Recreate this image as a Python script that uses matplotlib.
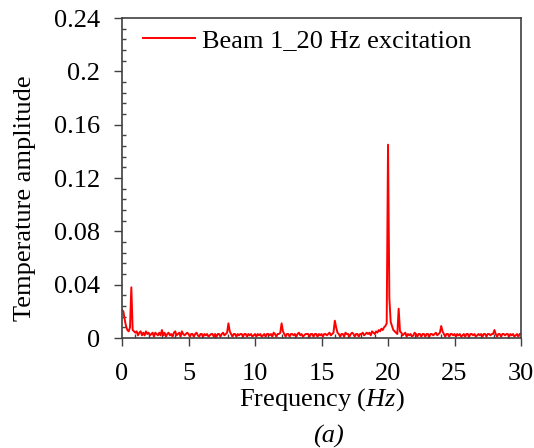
import numpy as np
import matplotlib.pyplot as plt
from matplotlib.ticker import MultipleLocator

# Spectrum, 0.1 Hz steps, amplitude in units of 0.001
freq = np.arange(0, 30.01, 0.1)
amp_milli = [
    21, 20, 14, 9, 6, 5, 8, 38, 6, 5,
    4, 5, 2, 4, 5, 2, 4, 2, 5, 3,
    4, 2, 3, 4, 1, 4, 3, 2, 4, 2,
    6, 2, 4, 1, 3, 4, 2, 3, 1, 4,
    5, 2, 3, 4, 1, 5, 3, 2, 3, 4,
    3, 1, 3, 3, 1, 3, 4, 2, 1, 3,
    3, 1, 3, 2, 3, 1, 2, 3, 3, 1,
    3, 1, 3, 3, 1, 3, 4, 2, 3, 4,
    11, 5, 3, 1, 3, 3, 1, 3, 2, 3,
    3, 1, 3, 3, 1, 3, 2, 3, 1, 2,
    3, 1, 3, 2, 3, 1, 2, 3, 1, 3,
    3, 2, 3, 1, 4, 3, 1, 3, 3, 4,
    11, 5, 3, 1, 3, 3, 1, 3, 3, 2,
    3, 1, 3, 4, 2, 3, 1, 2, 3, 3,
    3, 1, 3, 3, 1, 3, 3, 1, 3, 2,
    3, 1, 3, 3, 2, 3, 4, 2, 3, 4,
    13, 8, 4, 3, 1, 3, 3, 1, 4, 3,
    3, 1, 3, 4, 3, 1, 3, 3, 1, 3,
    3, 4, 2, 3, 4, 3, 4, 2, 5, 4,
    3, 5, 4, 6, 5, 7, 6, 8, 9, 11,
    145, 30, 12, 9, 6, 5, 4, 3, 22, 5,
    4, 2, 3, 4, 1, 3, 2, 3, 1, 2,
    4, 3, 1, 3, 3, 1, 3, 3, 1, 3,
    3, 1, 3, 3, 2, 3, 4, 2, 3, 4,
    9, 5, 3, 1, 3, 3, 1, 3, 3, 2,
    3, 1, 3, 2, 3, 1, 2, 3, 1, 3,
    3, 1, 3, 3, 2, 3, 1, 2, 3, 2,
    3, 1, 3, 3, 1, 3, 3, 2, 3, 3,
    6, 3, 1, 3, 3, 1, 3, 3, 2, 3,
    3, 1, 3, 2, 3, 1, 2, 3, 1, 3,
    3,
]
amp = np.array(amp_milli) / 1000.0

plt.rcParams['font.family'] = 'Liberation Serif'
plt.rcParams['mathtext.fontset'] = 'custom'
plt.rcParams['mathtext.it'] = 'Liberation Serif:italic'
plt.rcParams['mathtext.rm'] = 'Liberation Serif'

fig = plt.figure(figsize=(5.34, 4.48), dpi=100)
ax = fig.add_axes([0.2285, 0.2455, 0.7472, 0.7143])

ax.plot(freq, amp, color='red', lw=1.4, label='Beam 1_20 Hz excitation')

ax.set_xlim(0, 30)
ax.set_ylim(0, 0.24)
ax.set_xticks([0, 5, 10, 15, 20, 25, 30])
ax.set_yticks([0, 0.04, 0.08, 0.12, 0.16, 0.2, 0.24])
ax.set_yticklabels(['0', '0.04', '0.08', '0.12', '0.16', '0.2', '0.24'])
ax.xaxis.set_minor_locator(MultipleLocator(1))
ax.yaxis.set_minor_locator(MultipleLocator(0.008))
ax.tick_params(which='major', direction='out', length=6, width=1, labelsize=19,
               colors='#404040', labelcolor='black')
ax.tick_params(axis='y', which='major', pad=10)
ax.tick_params(axis='x', which='major', pad=12)
ax.tick_params(which='minor', direction='in', length=3, width=1, colors='#404040')
for s in ax.spines.values():
    s.set_color('#404040')
    s.set_linewidth(1.2)

ax.set_xlabel('Frequency ($Hz$)', fontsize=19, labelpad=1)
ax.set_ylabel('Temperature amplitude', fontsize=19)
ax.yaxis.set_label_coords(-0.215, 0.4375)
ax.legend(loc='upper left', bbox_to_anchor=(-0.008, 1.04), frameon=False, fontsize=19,
          handlelength=2.0, handletextpad=0.25)
fig.text(0.615, 0.013, '(a)', fontsize=19, style='italic', ha='center')

fig.savefig('out.png', dpi=100)
